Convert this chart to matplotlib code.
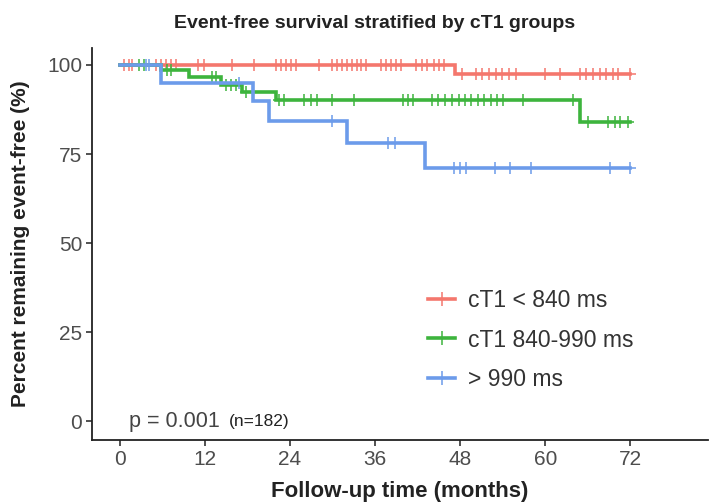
"""
Kaplan-Meier style event-free survival by cT1 group
"""

import numpy as np
import matplotlib
import matplotlib.pyplot as plt
from matplotlib.lines import Line2D

matplotlib.use('Agg')

plt.rcParams['font.family'] = ['Liberation Sans', 'DejaVu Sans']

# step curves: time of each step (months) and survival after it (%)
groups = ['cT1 < 840 ms', 'cT1 840-990 ms', '> 990 ms']
colors = ['#F4776D', '#3DB43D', '#6C9BEA']

red_times = [0, 47.3, 72]
red_surv = [100, 97.5, 97.5]
green_times = [0, 5.9, 9.8, 14.3, 17.3, 22.1, 64.9, 72]
green_surv = [100, 98.6, 96.7, 94.4, 92.4, 90.3, 84.0, 84.0]
blue_times = [0, 5.8, 18.8, 21.0, 32.0, 43.1, 72]
blue_surv = [100, 95.0, 90.0, 84.4, 78.2, 71.1, 71.1]

# censoring times (months)
red_censor = [0.7, 1.3, 1.8, 5.2, 5.9, 6.6, 7.3, 8.0, 11.0, 11.9, 15.9, 19.0,
              22.1, 22.8, 23.5, 24.2, 24.9, 28.1, 29.9, 30.6, 31.3, 32.0,
              32.7, 33.4, 34.1, 34.8, 36.9, 37.6, 38.3, 39.0, 39.7, 41.8,
              42.6, 43.4, 44.3, 45.0, 45.8, 48.2, 50.3, 51.1, 52.1, 53.1,
              53.9, 54.9, 55.9, 60.0, 62.1, 64.9, 65.7, 66.7, 67.7, 68.5,
              69.5, 70.2, 71.9]
green_censor = [2.8, 3.5, 6.7, 7.3, 13.1, 13.6, 15.0, 15.7, 16.4, 17.8, 22.5,
                23.2, 26.0, 27.0, 27.8, 29.9, 33.0, 40.0, 40.7, 41.4, 44.0,
                44.9, 45.9, 46.8, 47.8, 48.7, 49.6, 50.5, 51.4, 52.3, 53.2,
                54.1, 56.9, 63.9, 66.0, 68.8, 69.8, 70.6, 71.6]
blue_censor = [3.8, 4.2, 16.9, 29.9, 37.9, 38.8, 47.1, 48.0, 48.9, 52.9,
               55.1, 58.0, 69.1, 72.0]

curves = [
    (red_times, red_surv, red_censor),
    (green_times, green_surv, green_censor),
    (blue_times, blue_surv, blue_censor),
]

fig = plt.figure(figsize=(7.12, 5.04), dpi=100)
ax = fig.add_axes([0.129, 0.127, 0.865, 0.778])

for (t, s, c), col in zip(curves, colors):
    t = np.array(t)
    s = np.array(s)
    ax.step(t, s, where='post', color=col, lw=2.6, solid_joinstyle='miter')
    # survival level at each censoring time
    idx = np.searchsorted(t, c, side='right') - 1
    ax.plot(c, s[idx], ls='none', marker='+', ms=9, mew=1.1, color=col)

ax.set_xlim(-3.9, 82.9)
ax.set_ylim(-5.3, 104.8)
ax.set_xticks(np.arange(0, 73, 12))
ax.set_yticks(np.arange(0, 101, 25))

for side in ['top', 'right']:
    ax.spines[side].set_visible(False)
for side in ['left', 'bottom']:
    ax.spines[side].set_linewidth(1.3)
    ax.spines[side].set_color('#222222')
ax.tick_params(length=4, width=1.2, color='#333333', labelsize=15,
               labelcolor='#4D4D4D', pad=3)

ax.set_title('Event-free survival stratified by cT1 groups', x=0.459,
             fontsize=14, fontweight='bold', color='#222222', pad=14)
ax.set_xlabel('Follow-up time (months)', fontsize=16, fontweight='bold',
              color='#222222', labelpad=9)
ax.set_ylabel('Percent remaining event-free (%)', fontsize=15,
              fontweight='bold', color='#222222', labelpad=12)

ax.text(1.3, 0, 'p = 0.001', fontsize=15.5, color='#444444', va='center')
ax.text(15.4, 0, '(n=182)', fontsize=12.5, color='#222222', va='center')

handles = [Line2D([0], [0], color=col, lw=2.6, marker='+', ms=10, mew=1.1)
           for col in colors]
ax.legend(handles, groups, loc='center left', bbox_to_anchor=(0.512, 0.255),
          frameon=False, fontsize=16.5, handlelength=1.2, handletextpad=0.55,
          labelspacing=0.7, labelcolor='#333333')

fig.savefig('out.png', dpi=100, facecolor='white')
plt.close(fig)
